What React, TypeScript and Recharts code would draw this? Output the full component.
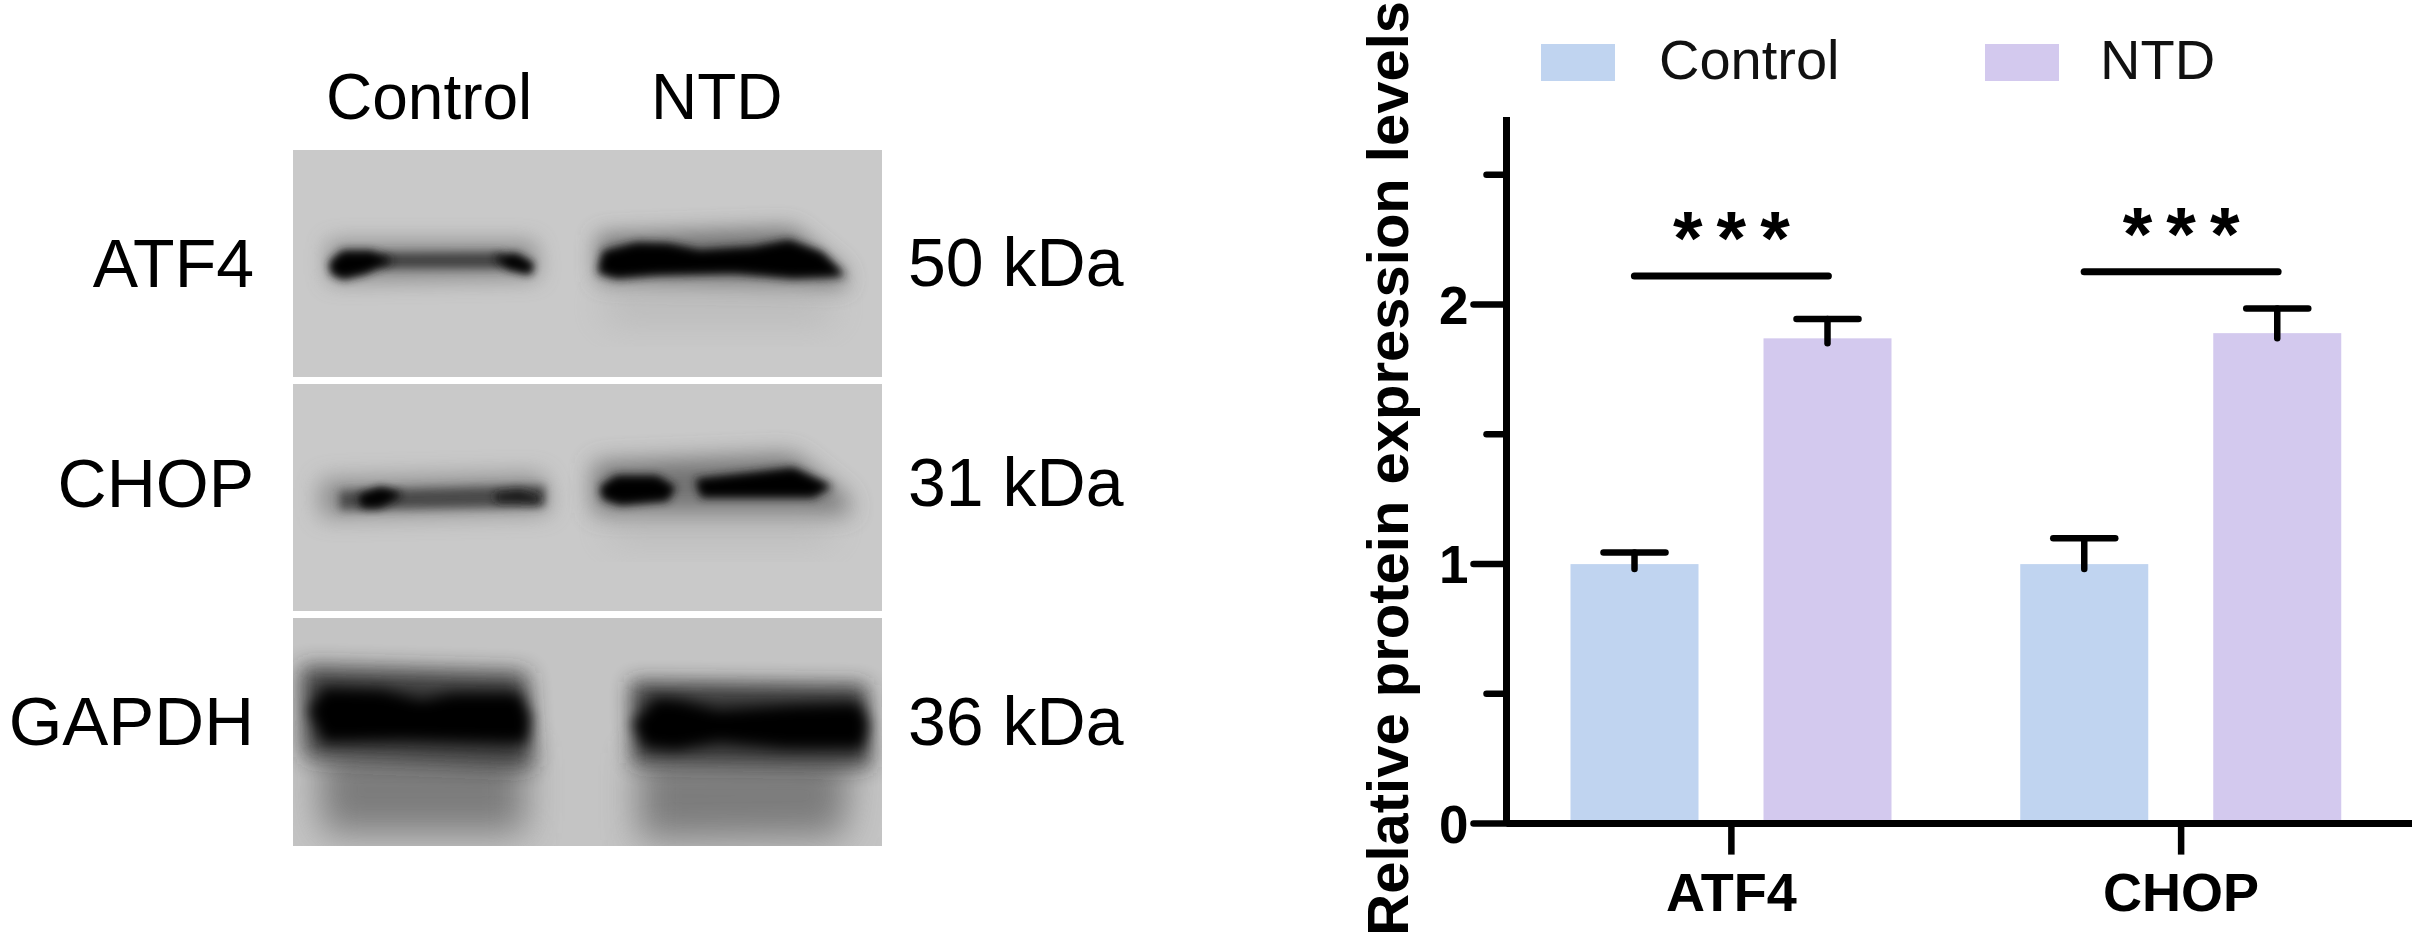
import React from "react";
import { ComposedChart, Bar, Line, XAxis, YAxis, Legend } from "recharts";

const categories = ["ATF4", "CHOP"];
const controlValues = [1.0, 1.0];
const ntdValues = [1.87, 1.89];
const controlErrorTops = [1.045, 1.1];
const ntdErrorTops = [1.945, 1.985];
const significanceLevels = [2.11, 2.127];
const significanceLabels = ["***", "***"];
const yTicks = [0, 0.5, 1, 1.5, 2, 2.5];

const rows = categories.map((name, i) => ({
  name,
  Control: controlValues[i],
  NTD: ntdValues[i],
  controlTop: controlErrorTops[i],
  ntdTop: ntdErrorTops[i],
  sig: significanceLevels[i],
  sigLabel: significanceLabels[i],
}));

const SANS = "'Liberation Sans', Arial, sans-serif";
const INK = "#000";
const CONTROL_FILL = "#C0D4F0";
const NTD_FILL = "#D3C9EE";

const barWithError = (fill: string, topKey: string) => (props: any) => {
  const { x, y, width, height, value, payload } = props;
  const v = Array.isArray(value) ? value[1] : value;
  const pxPerUnit = height / v;
  const capY = y - (payload[topKey] - v) * pxPerUnit;
  const cx = x + width / 2;
  return (
    <g>
      <rect x={x} y={y} width={width} height={height} fill={fill} />
      <line x1={cx} x2={cx} y1={y + 5} y2={capY} stroke={INK} strokeWidth={6.5} strokeLinecap="round" />
      <line x1={cx - 31} x2={cx + 31} y1={capY} y2={capY} stroke={INK} strokeWidth={6.5} strokeLinecap="round" />
    </g>
  );
};

const SigMark = (props: any) => {
  const { cx, cy, payload, index } = props;
  return (
    <g key={index}>
      <line x1={cx - 97} x2={cx + 97} y1={cy} y2={cy} stroke={INK} strokeWidth={7} strokeLinecap="round" />
      <text x={cx + 7} y={cy - 12} textAnchor="middle" fontFamily={SANS} fontWeight={700} fontSize={76} letterSpacing={14} fill={INK}>
        {payload.sigLabel}
      </text>
    </g>
  );
};

const YTick = (props: any) => {
  const { x, y, payload } = props;
  const major = Number.isInteger(payload.value);
  return (
    <g>
      <line x1={x} x2={x - (major ? 33 : 20)} y1={y} y2={y} stroke={INK} strokeWidth={6.5} strokeLinecap="round" />
      {major && (
        <text x={x - 38} y={y + 19} textAnchor="end" fontFamily={SANS} fontWeight={700} fontSize={53} fill={INK}>
          {payload.value}
        </text>
      )}
    </g>
  );
};

const XTick = (props: any) => {
  const { x, y, payload } = props;
  return (
    <g>
      <line x1={x} x2={x} y1={y} y2={y + 31} stroke={INK} strokeWidth={6.5} />
      <text x={x} y={y + 87} textAnchor="middle" fontFamily={SANS} fontWeight={700} fontSize={54} fill={INK}>
        {payload.value}
      </text>
    </g>
  );
};

const LegendRow = (props: any) => {
  const items = (props.payload || []).filter((p: any) => p.value === "Control" || p.value === "NTD");
  const lefts = [1541, 1985];
  const textLefts = [1659, 2100];
  return (
    <div style={{ position: "relative", height: 0 }}>
      {items.map((it: any, i: number) => (
        <React.Fragment key={it.value}>
          <div style={{ position: "absolute", left: lefts[i], top: 44, width: 74, height: 37, background: it.color }} />
          <div
            style={{
              position: "absolute",
              left: textLefts[i],
              top: 28,
              fontFamily: SANS,
              fontSize: 56,
              lineHeight: "64px",
              color: "#111",
              whiteSpace: "nowrap",
            }}
          >
            {it.value}
          </div>
        </React.Fragment>
      ))}
    </div>
  );
};

const poly = (pts: number[][], oy: number) =>
  pts.map(([zx, zy]) => `${(285 + zx / 2.56).toFixed(1)},${(oy + zy / 3).toFixed(1)}`).join(" ");

const Blot = () => {
  const panels = [
    { y: 150, h: 227, oy: 140 },
    { y: 384, h: 227, oy: 375 },
    { y: 618, h: 228, oy: 610 },
  ];
  const bands: { p: number; pts: number[][]; fill: string; blur: number; op?: number; sw?: number }[] = [
    // ATF4
    { p: 0, pts: [[110, 305], [640, 305], [650, 415], [110, 425]], fill: "#707070", blur: 11, op: 0.7 },
    { p: 0, pts: [[800, 285], [1300, 265], [1430, 390], [1440, 440], [800, 425]], fill: "#5c5c5c", blur: 11, op: 0.8 },
    { p: 0, pts: [[820, 460], [1400, 460], [1400, 540], [820, 540]], fill: "#a0a0a0", blur: 18, op: 0.45 },
    { p: 0, pts: [[240, 340], [560, 338], [560, 384], [240, 384]], fill: "#404040", blur: 5 },
    { p: 0, pts: [[122, 370], [150, 342], [220, 342], [262, 362], [205, 392], [150, 408], [125, 395]], fill: "#000", blur: 4, sw: 6 },
    { p: 0, pts: [[545, 355], [590, 348], [630, 375], [625, 395], [570, 380]], fill: "#000", blur: 4, sw: 4 },
    { p: 0, pts: [[810, 392], [820, 342], [900, 318], [980, 320], [1060, 340], [1200, 330], [1290, 310], [1370, 345], [1418, 400], [1300, 405], [1150, 390], [950, 395], [850, 405]], fill: "#000", blur: 4, sw: 6 },
    // CHOP
    { p: 1, pts: [[90, 315], [660, 300], [680, 410], [90, 425]], fill: "#707070", blur: 12, op: 0.7 },
    { p: 1, pts: [[790, 265], [1300, 240], [1440, 370], [1450, 415], [790, 415]], fill: "#5c5c5c", blur: 12, op: 0.8 },
    { p: 1, pts: [[830, 420], [1400, 420], [1400, 490], [830, 490]], fill: "#a0a0a0", blur: 18, op: 0.45 },
    { p: 1, pts: [[140, 348], [665, 332], [665, 394], [140, 404]], fill: "#484848", blur: 5 },
    { p: 1, pts: [[195, 365], [245, 345], [290, 360], [240, 390], [200, 390]], fill: "#000", blur: 4, sw: 3 },
    { p: 1, pts: [[535, 355], [600, 345], [655, 365], [650, 385], [540, 380]], fill: "#1a1a1a", blur: 4 },
    { p: 1, pts: [[815, 340], [850, 312], [950, 312], [990, 340], [975, 368], [860, 380], [820, 365]], fill: "#000", blur: 4, sw: 6 },
    { p: 1, pts: [[1060, 320], [1200, 302], [1300, 288], [1385, 335], [1350, 358], [1070, 358]], fill: "#000", blur: 4, sw: 6 },
    // GAPDH
    { p: 2, pts: [[85, 410], [615, 410], [615, 670], [95, 670]], fill: "#707070", blur: 18, op: 0.85 },
    { p: 2, pts: [[905, 430], [1450, 430], [1430, 680], [905, 690]], fill: "#707070", blur: 18, op: 0.85 },
    { p: 2, pts: [[40, 170], [620, 190], [635, 470], [50, 440]], fill: "#2a2a2a", blur: 11, op: 0.9 },
    { p: 2, pts: [[885, 215], [1490, 225], [1500, 470], [890, 460]], fill: "#2a2a2a", blur: 10, op: 0.9 },
    { p: 2, pts: [[60, 300], [100, 235], [250, 240], [350, 270], [430, 250], [600, 250], [630, 320], [620, 400], [300, 390], [100, 395]], fill: "#000", blur: 7 },
    { p: 2, pts: [[890, 340], [950, 265], [1010, 270], [1110, 300], [1300, 285], [1470, 280], [1495, 340], [1480, 415], [1280, 415], [1110, 395], [1000, 420], [920, 410]], fill: "#000", blur: 7 },
  ];
  const labelsLeft = [
    { t: "ATF4", y: 287, s: 68 },
    { t: "CHOP", y: 507, s: 68 },
    { t: "GAPDH", y: 745, s: 69 },
  ];
  const labelsRight = [
    { t: "50 kDa", y: 286 },
    { t: "31 kDa", y: 506 },
    { t: "36 kDa", y: 745 },
  ];
  const blurIds = [4, 5, 7, 10, 11, 12, 18];
  return (
    <svg width={1300} height={937} style={{ position: "absolute", left: 0, top: 0 }}>
      <defs>
        {panels.map((p, i) => (
          <clipPath id={`panel${i}`} key={i}>
            <rect x={293} y={p.y} width={589} height={p.h} />
          </clipPath>
        ))}
        {blurIds.map((b) => (
          <filter id={`blur${b}`} key={b} x="-40%" y="-100%" width="180%" height="300%">
            <feGaussianBlur stdDeviation={b} />
          </filter>
        ))}
      </defs>
      {panels.map((p, i) => (
        <g key={i} clipPath={`url(#panel${i})`}>
          <rect x={293} y={p.y} width={589} height={p.h} fill={i === 2 ? "#c4c4c4" : "#c9c9c9"} />
          {bands
            .filter((b) => b.p === i)
            .map((b, j) => (
              <React.Fragment key={j}>
                {b.sw ? (
                  <polygon
                    points={poly(b.pts, p.oy)}
                    fill="#222"
                    stroke="#222"
                    strokeWidth={b.sw}
                    opacity={0.8}
                    filter="url(#blur5)"
                  />
                ) : null}
                <polygon
                  points={poly(b.pts, p.oy)}
                  fill={b.fill}
                  stroke={b.sw ? "#000" : "none"}
                  strokeWidth={b.sw ? 3 : 0}
                  opacity={b.op ?? 1}
                  filter={`url(#blur${b.blur})`}
                />
              </React.Fragment>
            ))}
        </g>
      ))}
      <g fontFamily={SANS} fill="#000">
        <text x={326} y={119} fontSize={64}>Control</text>
        <text x={651} y={119} fontSize={64}>NTD</text>
        {labelsLeft.map((l) => (
          <text key={l.t} x={254} y={l.y} fontSize={l.s} textAnchor="end">{l.t}</text>
        ))}
        {labelsRight.map((l) => (
          <text key={l.t} x={908} y={l.y} fontSize={68}>{l.t}</text>
        ))}
      </g>
    </svg>
  );
};

export default function App() {
  return (
    <div style={{ position: "absolute", left: 0, top: 0, width: 2413, height: 937, background: "#fff", overflow: "hidden" }}>
      <Blot />
      <div style={{ position: "absolute", left: 0, top: 0 }}>
        <ComposedChart
          width={2413}
          height={937}
          data={rows}
          margin={{ top: 117, right: 1, bottom: 0, left: 1340 }}
          barSize={128}
          barGap={65}
        >
          <XAxis
            dataKey="name"
            height={113.4}
            axisLine={{ stroke: INK, strokeWidth: 7 }}
            tickLine={false}
            tickSize={0}
            tickMargin={0}
            padding={{ left: 0, right: 6 }}
            tick={<XTick />}
            interval={0}
          />
          <YAxis
            width={166.5}
            domain={[0, 2.723]}
            ticks={yTicks}
            allowDataOverflow
            axisLine={{ stroke: INK, strokeWidth: 7 }}
            tickLine={false}
            tickSize={0}
            tickMargin={0}
            tick={<YTick />}
            label={{
              value: "Relative protein expression levels",
              angle: -90,
              position: "insideLeft",
              dx: 42,
              dy: -2,
              fontFamily: SANS,
              fontWeight: 700,
              fontSize: 58,
              fill: INK,
              style: { textAnchor: "middle" },
            }}
          />
          <Legend content={<LegendRow />} wrapperStyle={{ left: 0, top: 0, width: 2413, height: 0 }} />
          <Bar dataKey="Control" fill={CONTROL_FILL} isAnimationActive={false} shape={barWithError(CONTROL_FILL, "controlTop")} />
          <Bar dataKey="NTD" fill={NTD_FILL} isAnimationActive={false} shape={barWithError(NTD_FILL, "ntdTop")} />
          <Line dataKey="sig" stroke="none" legendType="none" isAnimationActive={false} dot={(p: any) => <SigMark {...p} />} activeDot={false} />
        </ComposedChart>
      </div>
    </div>
  );
}
